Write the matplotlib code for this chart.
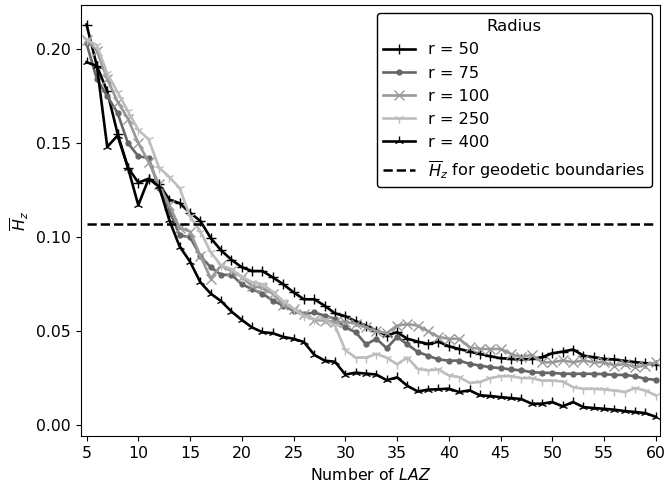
import numpy as np
import matplotlib
matplotlib.use("Agg")
import matplotlib.pyplot as plt

plt.rcParams['font.size'] = 11.3

n_laz = list(range(5, 61))

r50 = [0.213, 0.191, 0.1775, 0.155, 0.137, 0.129, 0.131, 0.128, 0.120, 0.118,
       0.113, 0.1086, 0.0995, 0.093, 0.088, 0.084, 0.082, 0.082, 0.0786, 0.075,
       0.0707, 0.067, 0.067, 0.0636, 0.0595, 0.058, 0.0553, 0.053, 0.0504, 0.0477,
       0.0495, 0.046, 0.0445, 0.0433, 0.0445, 0.042, 0.0406, 0.0392, 0.038, 0.0367,
       0.0357, 0.0353, 0.035, 0.0353, 0.0362, 0.0383, 0.0392, 0.0403, 0.0371, 0.0362,
       0.0353, 0.035, 0.0343, 0.0336, 0.033, 0.0323]

r75 = [0.203, 0.184, 0.175, 0.166, 0.150, 0.143, 0.142, 0.126, 0.114, 0.101,
       0.100, 0.090, 0.084, 0.080, 0.080, 0.075, 0.0724, 0.070, 0.0663, 0.0636,
       0.061, 0.059, 0.060, 0.0583, 0.0566, 0.052, 0.0495, 0.043, 0.046, 0.041,
       0.047, 0.043, 0.039, 0.037, 0.035, 0.0344, 0.0344, 0.0327, 0.0318, 0.0309,
       0.0304, 0.0297, 0.0292, 0.0283, 0.0279, 0.0279, 0.0274, 0.0274, 0.0274, 0.0274,
       0.0272, 0.0268, 0.0268, 0.0261, 0.0247, 0.0242]

r100 = [0.205, 0.199, 0.184, 0.172, 0.163, 0.150, 0.140, 0.128, 0.117, 0.105,
        0.103, 0.090, 0.078, 0.085, 0.082, 0.079, 0.074, 0.073, 0.070, 0.064,
        0.062, 0.059, 0.056, 0.0557, 0.055, 0.055, 0.054, 0.052, 0.050, 0.049,
        0.053, 0.0538, 0.053, 0.050, 0.047, 0.046, 0.046, 0.0415, 0.0406, 0.0406,
        0.0406, 0.038, 0.0362, 0.0375, 0.0335, 0.0335, 0.0345, 0.0335, 0.0345, 0.0335,
        0.0335, 0.0318, 0.0327, 0.0309, 0.0318, 0.0335]

r250 = [0.205, 0.202, 0.187, 0.177, 0.167, 0.157, 0.152, 0.137, 0.132, 0.126,
        0.111, 0.103, 0.092, 0.085, 0.083, 0.079, 0.076, 0.075, 0.071, 0.066,
        0.062, 0.058, 0.0565, 0.0565, 0.053, 0.040, 0.036, 0.036, 0.038, 0.036,
        0.0325, 0.036, 0.030, 0.0292, 0.0297, 0.0265, 0.0256, 0.0226, 0.023, 0.0251,
        0.0261, 0.0261, 0.0251, 0.0251, 0.0238, 0.0238, 0.0233, 0.0203, 0.0194, 0.0194,
        0.0191, 0.0185, 0.0177, 0.0198, 0.0185, 0.0159]

r400 = [0.193, 0.191, 0.148, 0.154, 0.137, 0.117, 0.131, 0.127, 0.109, 0.095,
        0.087, 0.076, 0.070, 0.066, 0.0605, 0.056, 0.052, 0.0495, 0.049, 0.047,
        0.046, 0.0443, 0.0375, 0.0344, 0.0338, 0.027, 0.028, 0.0275, 0.027, 0.024,
        0.0255, 0.021, 0.018, 0.019, 0.0192, 0.0195, 0.0177, 0.0186, 0.016, 0.0156,
        0.015, 0.0145, 0.014, 0.0115, 0.0115, 0.0124, 0.0101, 0.0124, 0.0097, 0.0092,
        0.0088, 0.0083, 0.0076, 0.0071, 0.0065, 0.0045]

h_geodetic = 0.107

series = [("r = 50", r50, "#000000", "+"),
          ("r = 75", r75, "#666666", "."),
          ("r = 100", r100, "#999999", "x"),
          ("r = 250", r250, "#bdbdbd", "1"),
          ("r = 400", r400, "#000000", "2")]

fig, ax = plt.subplots(figsize=(6.68, 4.91), dpi=100)
fig.subplots_adjust(left=0.121, right=0.988, bottom=0.111, top=0.99)

for label, vals, col, mk in series:
    ax.plot(n_laz, vals, color=col, marker=mk, markersize=7, linewidth=1.9,
            label=label)

ax.plot([n_laz[0], n_laz[-1]], [h_geodetic, h_geodetic], 'k--', linewidth=1.8,
        label=r"$\overline{H}_z$ for geodetic boundaries")

ax.set_xlim(4.45, 60.4)
ax.set_xticks(range(5, 61, 5))
ax.set_yticks([0.0, 0.05, 0.10, 0.15, 0.20])
ax.set_xlabel("Number of $LAZ$")
ax.set_ylabel(r"$\overline{H}_z$")

leg = ax.legend(title="Radius", loc="upper right", framealpha=1,
                fontsize=11.6, title_fontsize=11.8)
leg.get_frame().set_edgecolor("black")

fig.savefig("out.png")
